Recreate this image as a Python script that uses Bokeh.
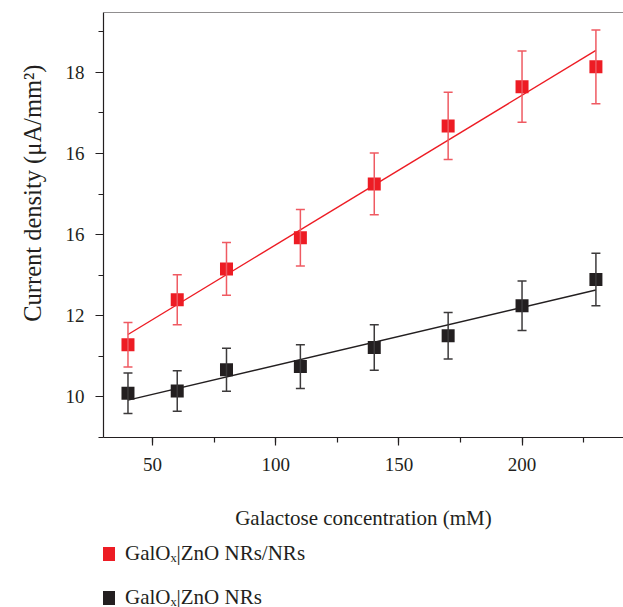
import numpy as np
from bokeh.plotting import figure
from bokeh.layouts import column
from bokeh.models import (ColumnDataSource, Whisker, TeeHead, SingleIntervalTicker,
                          Title, Span, Legend, LegendItem, Range1d)
from bokeh.embed import file_html
from bokeh.resources import INLINE

# ---- data ----
conc = [40, 60, 80, 110, 140, 170, 200, 230]
nrs_nrs = [11.28, 12.39, 13.15, 13.92, 15.25, 16.68, 17.65, 18.14]
nrs_nrs_err = [0.55, 0.62, 0.65, 0.70, 0.76, 0.83, 0.88, 0.91]
nrs = [10.08, 10.14, 10.66, 10.74, 11.21, 11.50, 12.24, 12.89]
nrs_err = [0.50, 0.50, 0.53, 0.54, 0.56, 0.575, 0.61, 0.65]
y_tick_labels = {10: "10", 12: "12", 14: "16", 16: "16", 18: "18"}
series_names = ["GalOₓ|ZnO NRs/NRs", "GalOₓ|ZnO NRs"]

RED = "#ed1c24"
BLACK = "#231f20"
FONT = "Liberation Serif"

X_START, X_END = 30.06, 241.2
Y_START, Y_END = 8.99, 19.48

p = figure(width=623, height=535, output_backend="svg", toolbar_location=None,
           x_range=Range1d(X_START, X_END), y_range=Range1d(Y_START, Y_END),
           min_border_left=101, min_border_right=0, min_border_top=12,
           min_border_bottom=98)
p.outline_line_color = None
p.grid.visible = False
p.background_fill_color = "white"

# axes
xa = p.xaxis[0]
ya = p.yaxis[0]
xa.ticker = SingleIntervalTicker(interval=50, num_minor_ticks=2)
ya.ticker = SingleIntervalTicker(interval=2, num_minor_ticks=2)
ya.major_label_overrides = {k: v for k, v in y_tick_labels.items()}
for ax in (xa, ya):
    ax.axis_line_color = BLACK
    ax.axis_line_width = 1.2
    ax.major_tick_line_color = BLACK
    ax.minor_tick_line_color = BLACK
    ax.major_tick_line_width = 1.2
    ax.minor_tick_line_width = 1.2
    ax.major_tick_out = 8
    ax.major_tick_in = 0
    ax.minor_tick_out = 5
    ax.minor_tick_in = 0
    ax.major_label_text_font = FONT
    ax.major_label_text_font_size = "19px"
    ax.major_label_text_color = BLACK
xa.major_label_standoff = 12
ya.major_label_standoff = 11
xa.axis_label = "Galactose concentration (mM)"
xa.axis_label_text_font = FONT
xa.axis_label_text_font_size = "21px"
xa.axis_label_text_font_style = "normal"
xa.axis_label_text_color = BLACK
xa.axis_label_standoff = 32

# top border
p.add_layout(Span(location=Y_END, dimension="width", line_color=BLACK, line_width=1.2))

# y title
p.add_layout(Title(text="Current density (μA/mm²)", align="right", offset=52,
                   text_font=FONT, text_font_size="24.5px", text_font_style="normal",
                   text_color=BLACK, standoff=33), "left")

colors = [RED, BLACK]
values = [nrs_nrs, nrs]
for vals, errs, col, bar_col in ((nrs_nrs, nrs_nrs_err, RED, "#ef5a62"),
                                  (nrs, nrs_err, BLACK, "#3c3a3b")):
    vals = np.array(vals)
    errs = np.array(errs)
    src = ColumnDataSource(dict(x=conc, y=vals, upper=vals + errs, lower=vals - errs))
    # linear fit
    k, b = np.polyfit(conc, vals, 1)
    fx = [conc[0], conc[-1]]
    p.line(fx, [k * fx[0] + b, k * fx[1] + b], line_color=col, line_width=1.4)
    w = Whisker(base="x", upper="upper", lower="lower", source=src,
                line_color=bar_col, line_width=1.5,
                upper_head=TeeHead(size=9, line_color=bar_col, line_width=1.5),
                lower_head=TeeHead(size=9, line_color=bar_col, line_width=1.5),
                level="glyph")
    p.add_layout(w)
    p.scatter("x", "y", source=src, marker="square", size=13,
              fill_color=col, line_color=col, line_width=0)

# ---- legend strip below the chart (its own renderers lie outside its view) ----
p2 = figure(width=623, height=72, output_backend="svg", toolbar_location=None,
            x_axis_type=None, y_axis_type=None,
            x_range=Range1d(0, 1), y_range=Range1d(0, 1),
            min_border_left=0, min_border_right=0, min_border_top=0,
            min_border_bottom=0)
p2.grid.visible = False
p2.outline_line_color = None
items = []
for name, col, vals in zip(series_names, colors, values):
    r = p2.scatter(conc, vals, marker="square", fill_color=col, line_color=col, line_width=0)
    items.append(LegendItem(label=name, renderers=[r]))
legend = Legend(items=items, location=(-13, -7.5), orientation="vertical",
                glyph_width=35, glyph_height=35, label_standoff=0, spacing=9,
                padding=0, margin=0, border_line_color=None,
                background_fill_alpha=0,
                label_text_font=FONT, label_text_font_size="21px",
                label_text_color=BLACK, label_height=35)
p2.add_layout(legend, "center")

layout = column(p, p2, spacing=0)
open("out.html", "w").write(file_html(layout, INLINE))
